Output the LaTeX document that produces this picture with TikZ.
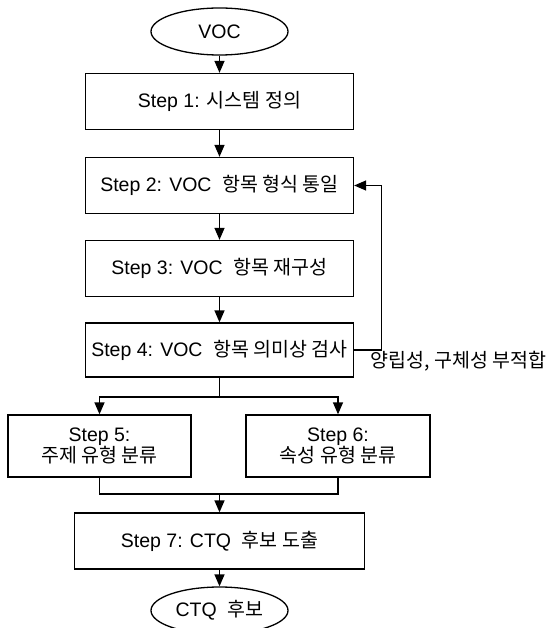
\documentclass[tikz,border=0pt]{standalone}
\usepackage{fontspec}
\setmainfont{Liberation Sans}
\newfontfamily\kr{Noto Sans CJK KR}
\usetikzlibrary{shapes.geometric,arrows.meta}

\begin{document}
\begin{tikzpicture}[x=1pt, y=-1pt,
  term/.style={ellipse, draw, line width=1.3pt, minimum width=137pt,
               minimum height=47pt, inner sep=0pt,
               font=\fontsize{19.5}{20}\selectfont},
  stepbox/.style={rectangle, draw, line width=1.3pt, minimum width=268pt,
               minimum height=56pt, align=center,
               font=\fontsize{19.5}{19}\selectfont},
  lbl/.style={font=\fontsize{19.5}{20}\selectfont\kr},
  lnk/.style={line width=1.3pt},
  arr/.style={-{Triangle[length=12pt,width=10pt]}, line width=1.3pt}
]
  \useasboundingbox (0,0) rectangle (552,628);
  \node[term]    (voc) at (219.5, 31.5) {VOC};
  \node[stepbox] (s1)  at (219.5, 101.5) {Step 1: {\kr 시스템 정의}};
  \node[stepbox] (s2)  at (219.5, 185.5) {Step 2: VOC\ \ {\kr 항목 형식 통일}};
  \node[stepbox] (s3)  at (219.5, 268.5) {Step 3: VOC\ \ {\kr 항목 재구성}};
  \node[stepbox, minimum height=54pt] (s4) at (219.5, 350)
        {Step 4: VOC\ \ {\kr 항목 의미상 검사}};
  \node[stepbox, minimum width=183pt, minimum height=62pt] (s5) at (99.5, 446)
        {Step 5:\\{\kr 주제 유형 분류}};
  \node[stepbox, minimum width=184pt, minimum height=62pt] (s6) at (338, 446)
        {Step 6:\\{\kr 속성 유형 분류}};
  \node[stepbox, minimum width=290pt] (s7) at (219.5, 541)
        {Step 7: CTQ\ \ {\kr 후보 도출}};
  \node[term]    (ctq) at (219.5, 610.5) {CTQ\ \ {\kr 후보}};
  \node[lbl]     (misfit) at (458.5, 361) {양립성, 구체성 부적합};
  \coordinate (split) at (219.5, 397);
  \coordinate (join)  at (219.5, 494);
  \draw[arr] (voc.south) -- (s1.north);
  \draw[arr] (s1.south) -- (s2.north);
  \draw[arr] (s2.south) -- (s3.north);
  \draw[arr] (s3.south) -- (s4.north);
  \draw[arr] (s4.east) -- ++(27,0) |- (s2.east);
  \draw[lnk] (s4.south) -- (split);
  \draw[arr] (split) -| (s5.north);
  \draw[arr] (split) -| (s6.north);
  \draw[lnk] (s5.south) |- (join);
  \draw[lnk] (s6.south) |- (join);
  \draw[arr] (join) -- (s7.north);
  \draw[arr] (s7.south) -- (ctq.north);
\end{tikzpicture}
\end{document}
